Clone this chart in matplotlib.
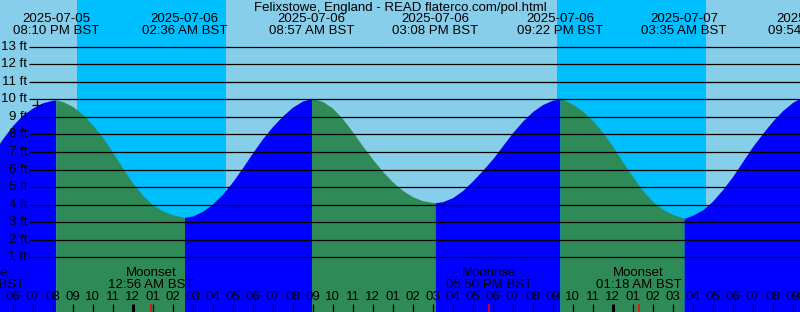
import matplotlib
matplotlib.use("Agg")
import matplotlib.pyplot as plt
import numpy as np

# ---------------- data (hours relative to 2025-07-06 00:00 BST) ----------------
title = "Felixstowe, England - READ flaterco.com/pol.html"

tide_event_hours = [-3.8333, 2.6, 8.95, 15.1333, 21.3667, 27.5833, 33.9]
tide_event_levels = [9.96, 3.28, 10.05, 4.12, 10.02, 3.22, 10.25]
tide_event_dates = ["2025-07-05", "2025-07-06", "2025-07-06", "2025-07-06",
                    "2025-07-06", "2025-07-07", "2025-07-07"]
tide_event_times = ["08:10 PM BST", "02:36 AM BST", "08:57 AM BST", "03:08 PM BST",
                    "09:22 PM BST", "03:35 AM BST", "09:54 AM BST"]

# tide height samples (ft)
sample_hours = [-7.0, -6.5, -6.0, -5.5, -5.0, -4.5, -4.0,
                -3.5, -3.0, -2.5, -2.0, -1.5, -1.0, -0.5, 0.0, 0.5, 1.0, 1.5, 2.0, 2.5,
                3.0, 3.5, 4.0, 4.5, 5.0, 5.5, 6.0, 6.5, 7.0, 7.5, 8.0, 8.5,
                9.0, 9.5, 10.0, 10.5, 11.0, 11.5, 12.0, 12.5, 13.0, 13.5, 14.0, 14.5, 15.0,
                15.5, 16.0, 16.5, 17.0, 17.5, 18.0, 18.5, 19.0, 19.5, 20.0, 20.5, 21.0,
                21.5, 22.0, 22.5, 23.0, 23.5, 24.0, 24.5, 25.0, 25.5, 26.0, 26.5, 27.0, 27.5,
                28.0, 28.5, 29.0, 29.5, 30.0, 30.5, 31.0, 31.5, 32.0, 32.5, 33.0, 33.5]
sample_levels = [6.9, 7.75, 8.5, 9.1, 9.5, 9.8, 9.95,
                 9.88, 9.6, 9.15, 8.55, 7.85, 7.0, 6.1, 5.25, 4.55, 4.0, 3.65, 3.43, 3.3,
                 3.36, 3.62, 4.05, 4.6, 5.3, 6.1, 6.95, 7.75, 8.45, 9.05, 9.55, 9.9,
                 10.05, 9.88, 9.5, 8.9, 8.15, 7.35, 6.6, 5.9, 5.3, 4.82, 4.46, 4.23, 4.13,
                 4.17, 4.4, 4.8, 5.35, 5.95, 6.6, 7.35, 8.1, 8.75, 9.3, 9.7, 9.95,
                 10.0, 9.72, 9.33, 8.8, 8.13, 7.35, 6.45, 5.6, 4.82, 4.2, 3.75, 3.45, 3.27,
                 3.4, 3.7, 4.2, 4.85, 5.6, 6.45, 7.3, 8.05, 8.75, 9.35, 9.82, 10.15]

# night (sunset -> sunrise)
sunset_hours = [-2.8, 21.2]
sunrise_hours = [4.65, 28.65]

# moon events
moon_hours = [-7.55, 0.9333, 17.8333, 25.3]
moon_names = ["Moonrise", "Moonset", "Moonrise", "Moonset"]
moon_times = ["04:27 PM BST", "12:56 AM BST", "05:50 PM BST", "01:18 AM BST"]

grid_levels = list(range(1, 14))
grid_labels = [f"{v} ft" for v in grid_levels]

now_hour = -4.8
now_level = 9.68

# ---------------- styling ----------------
plt.rcParams['font.family'] = ['Liberation Sans', 'DejaVu Sans']
FS = 9.5
DAY = "#87CEEB"
NIGHT = "#00BFFF"
RISE = "#0000FF"
FALL = "#2E8B57"

W, H = 800, 312
fig = plt.figure(figsize=(W / 100, H / 100), dpi=100)
ax = fig.add_axes([0, 0, 1, 1])
x_left, x_right = -6.625, 33.375
y_bot, y_top = -2.106, 15.652
ax.set_xlim(x_left, x_right)
ax.set_ylim(y_bot, y_top)
ax.set_facecolor(DAY)
for s in ax.spines.values():
    s.set_visible(False)
ax.set_xticks([])
ax.set_yticks([])

def fy(px):
    """pixel row from top -> axes fraction"""
    return 1 - px / H

xt = ax.get_xaxis_transform()

# night shading
for a, b in zip(sunset_hours, sunrise_hours):
    ax.axvspan(a, b, color=NIGHT, lw=0, zorder=1)

# tide fill
th = np.array(sorted(set(sample_hours + tide_event_hours)))
lv_map = dict(zip(sample_hours, sample_levels))
lv_map.update(dict(zip(tide_event_hours, tide_event_levels)))
tl = np.array([lv_map[h] for h in th])
breaks = sorted(set([th[0]] + tide_event_hours + [th[-1]]))
for a, b in zip(breaks[:-1], breaks[1:]):
    m = (th >= a) & (th <= b)
    if m.sum() < 2:
        continue
    seg_h, seg_l = th[m], tl[m]
    col = RISE if seg_l[-1] > seg_l[0] else FALL
    ax.fill_between(seg_h, seg_l, y_bot - 1, color=col, lw=0, zorder=2)

# grid lines
grid_start = (29 - 132.5) / 20
ax.hlines(grid_levels, grid_start, x_right + 1, colors="black", lw=0.9, zorder=3)
for v, lab in zip(grid_levels, grid_labels):
    ax.text(grid_start - 0.1, v, lab, ha="right", va="center", fontsize=FS, zorder=4)

# now marker
ax.plot([now_hour], [now_level], marker="+", color="black", ms=7, mew=0.9, zorder=5)

# title and tide event labels
ax.text(0.5, fy(7.5), title, transform=ax.transAxes, ha="center", va="center", fontsize=FS, zorder=6)
for h, d, t in zip(tide_event_hours, tide_event_dates, tide_event_times):
    ax.text(h, fy(19.5), d, transform=xt, ha="center", va="center", fontsize=FS, zorder=6)
    ax.text(h, fy(31.5), t, transform=xt, ha="center", va="center", fontsize=FS, zorder=6)

# moon labels
for h, n, t in zip(moon_hours, moon_names, moon_times):
    ax.text(h, fy(273.5), n, transform=xt, ha="center", va="center", fontsize=FS, zorder=6)
    ax.text(h, fy(285.5), t, transform=xt, ha="center", va="center", fontsize=FS, zorder=6)

# hour ticks and labels
hours = np.arange(int(np.floor(x_left)), int(np.ceil(x_right)) + 1)
for h in hours:
    hod = h % 24
    lab = f"{(hod - 1) % 12 + 1:02d}"
    ax.text(h, fy(297.5), lab, transform=xt, ha="center", va="center", fontsize=FS, zorder=6)
    lw = 2.2 if hod == 0 else 0.9
    ax.vlines(h, fy(312), fy(304), transform=xt, colors="black", lw=lw, zorder=6)
for h in moon_hours:
    ax.vlines(h, fy(312), fy(304), transform=xt, colors="red", lw=1.1, zorder=7)

fig.savefig("out.png", dpi=100, facecolor=DAY)
